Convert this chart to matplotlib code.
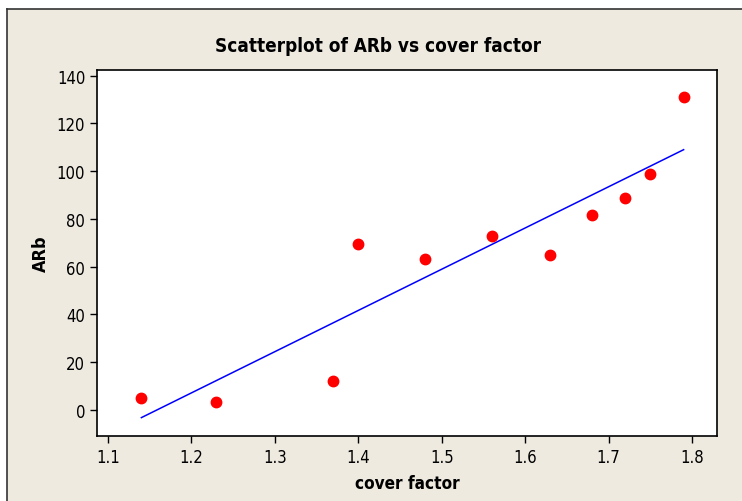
import matplotlib
matplotlib.use("Agg")
import matplotlib.pyplot as plt
import numpy as np
from matplotlib.patches import Rectangle

# values
cover_factor = [1.14, 1.23, 1.37, 1.40, 1.48, 1.56, 1.63, 1.68, 1.72, 1.75, 1.79]
arb = [5.0, 3.5, 12.0, 69.6, 63.2, 73.0, 64.8, 81.7, 88.6, 99.0, 131.0]
x_ticks = [1.1, 1.2, 1.3, 1.4, 1.5, 1.6, 1.7, 1.8]
y_ticks = [0, 20, 40, 60, 80, 100, 120, 140]

plt.rcParams['font.family'] = ['Liberation Sans Narrow', 'DejaVu Sans']
plt.rcParams['font.stretch'] = 'condensed'

fig = plt.figure(figsize=(7.42, 5.02), dpi=100, facecolor='white')
# beige panel with dark border on top and left, white strip above
fig.patches.append(Rectangle((6.5 / 742, 0), 1, 1 - 9.5 / 502, transform=fig.transFigure,
                             facecolor='#eeeae0', edgecolor='none', zorder=-10))
fig.lines.append(plt.Line2D([6.5 / 742, 1], [1 - 9.5 / 502] * 2, transform=fig.transFigure,
                            color='#333333', lw=1.2, zorder=-5))
fig.lines.append(plt.Line2D([6.5 / 742] * 2, [0, 1 - 9.5 / 502], transform=fig.transFigure,
                            color='#333333', lw=1.2, zorder=-5))

ax = fig.add_axes([97 / 742, 1 - 436.7 / 502, (717 - 97) / 742, (436.7 - 70.7) / 502])
ax.set_facecolor('white')

# fitted line
x = np.array(cover_factor)
y = np.array(arb)
b, a = np.polyfit(x, y, 1)
xl = np.array([x.min(), x.max()])
ax.plot(xl, a + b * xl, color='#0000ff', lw=1.1)

ax.plot(x, y, 'o', color='#ff0000', ms=7.5, mec='#ff0000')

ax.set_xlim(1.0868, 1.830)
ax.set_ylim(-10.8, 142.5)
ax.set_xticks(x_ticks)
ax.set_yticks(y_ticks)
ax.set_xticklabels([f'{v:.1f}' for v in x_ticks])
ax.tick_params(direction='out', length=5, width=1, labelsize=12, colors='black')
for s in ax.spines.values():
    s.set_linewidth(1.2)
    s.set_color('black')

fig.text(378 / 742, 1 - 47 / 502, 'Scatterplot of ARb vs cover factor',
         ha='center', va='center', fontsize=13.6, fontweight='bold')
ax.set_xlabel('cover factor', fontsize=12.3, fontweight='bold', labelpad=6)
ax.set_ylabel('ARb', fontsize=13, fontweight='bold', labelpad=5)

fig.savefig('out.png', dpi=100, facecolor=fig.get_facecolor())
